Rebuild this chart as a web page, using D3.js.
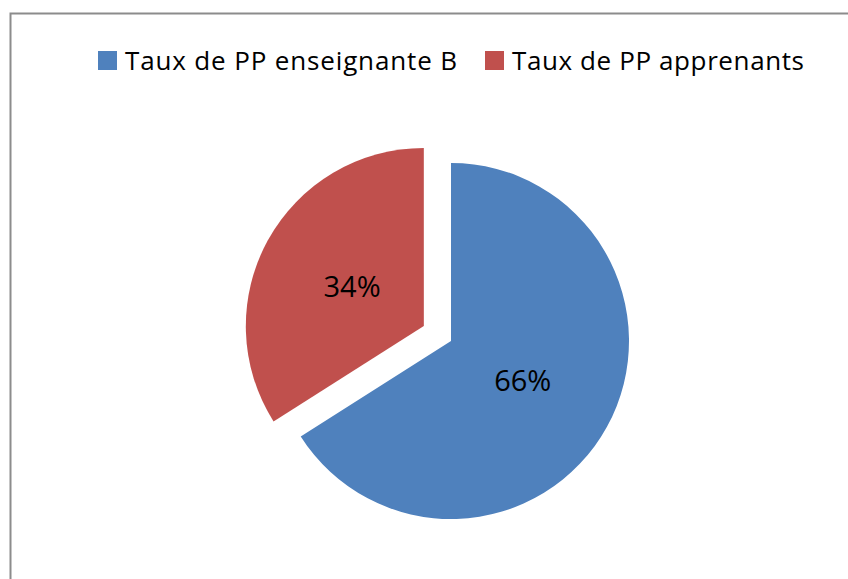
<!DOCTYPE html>
<html>
<head>
<meta charset="utf-8">
<script src="https://cdn.jsdelivr.net/npm/d3@7"></script>
<style>
	body{margin:0;background:#fff;}
	svg{display:block;font-family:"Open Sans",sans-serif;}
</style>
</head>
<body>
<svg width="848" height="579"></svg>
<script>
// data
var categories = ['Taux de PP enseignante B','Taux de PP apprenants'];
var values = [66,34];
var colors = ['#4F81BD','#C0504D'];

var svg = d3.select('svg');
var width = +svg.attr('width');
var height = +svg.attr('height');

// chart frame (runs off the right and bottom)
svg.append('rect')
	.attr('x',10.5).attr('y',13.5)
	.attr('width',width+20).attr('height',height+20)
	.attr('fill','#fff').attr('stroke','#8c8c8c').attr('stroke-width',2);

var cx = 451, cy = 341, radius = 178, explode = 31;

var data = categories.map((c,i) => ({name:c,value:values[i],color:colors[i]}));

var pie = d3.pie().sort(null).value(d => d.value);
var arc = d3.arc().innerRadius(0).outerRadius(radius);
var labelArc = d3.arc().innerRadius(radius*0.46).outerRadius(radius*0.46);

var g = svg.append('g').attr('transform',`translate(${cx},${cy})`);

var slices = g.selectAll('g.slice').data(pie(data))
	.enter()
	.append('g')
	.attr('class','slice')
	.attr('transform',(d,i) => {
		if(i==0) return null;
		var mid = (d.startAngle+d.endAngle)/2;
		return `translate(${Math.sin(mid)*explode},${-Math.cos(mid)*explode})`;
	});

slices.append('path')
	.attr('d',arc)
	.attr('fill',d => d.data.color);

slices.append('text')
	.attr('transform',d => `translate(${labelArc.centroid(d)})`)
	.attr('text-anchor','middle')
	.attr('dy','0.36em')
	.attr('font-size',29)
	.attr('fill','#000')
	.text(d => d.data.value+'%');

// legend
var legend = svg.append('g');
var lx = [98,485];
var lw = [332,292];
data.forEach((d,i) => {
	legend.append('rect')
		.attr('x',lx[i]).attr('y',51)
		.attr('width',19).attr('height',19)
		.attr('fill',d.color);
	legend.append('text')
		.attr('x',lx[i]+27).attr('y',70)
		.attr('font-size',26)
		.attr('textLength',lw[i])
		.attr('lengthAdjust','spacing')
		.attr('fill','#000')
		.text(d.name);
});
</script>
</body>
</html>
